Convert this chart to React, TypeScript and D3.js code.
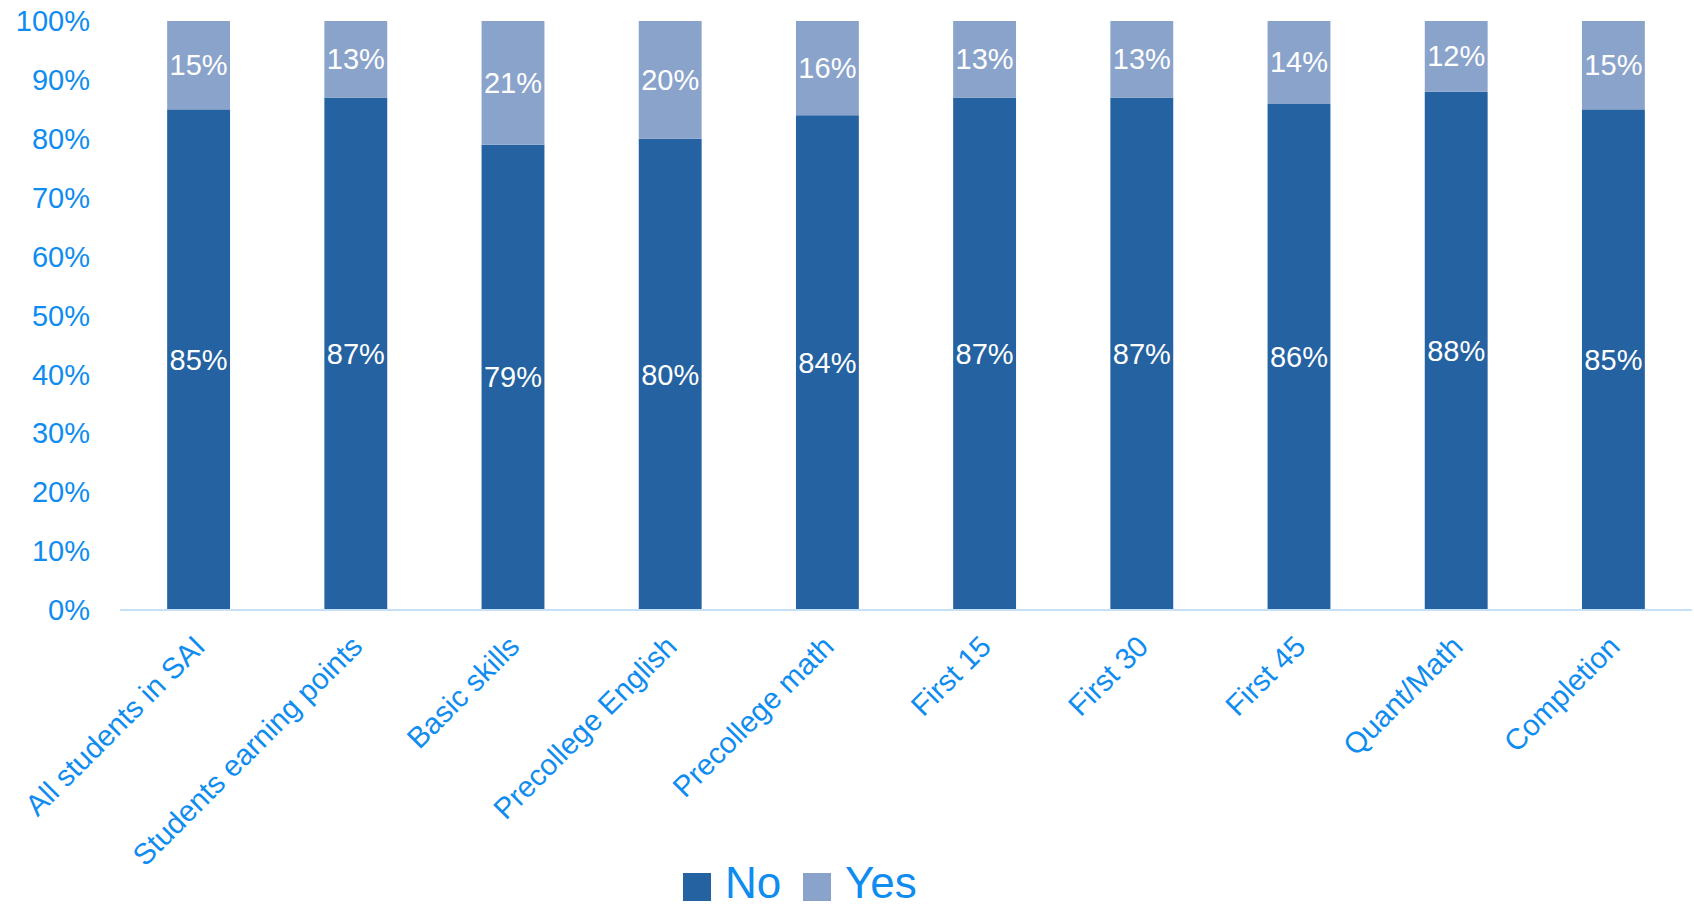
import React from "react";
import * as d3 from "d3";

const categories = [
  "All students in SAI",
  "Students earning points",
  "Basic skills",
  "Precollege English",
  "Precollege math",
  "First 15",
  "First 30",
  "First 45",
  "Quant/Math",
  "Completion",
];
const noValues = [85, 87, 79, 80, 84, 87, 87, 86, 88, 85];
const yesValues = [15, 13, 21, 20, 16, 13, 13, 14, 12, 15];
const yTicks = [0, 10, 20, 30, 40, 50, 60, 70, 80, 90, 100];
const seriesNames = ["No", "Yes"];

const W = 1694;
const H = 908;
const COLORS = ["#2562a1", "#8aa3cb"];
const TEXT = "#0f8cf0";
const FONT = "'Liberation Sans', Arial, sans-serif";

export default function App() {
  const x = d3.scaleBand<string>().domain(categories).range([120, 1692]).paddingInner(0.6).paddingOuter(0.3);
  const y = d3.scaleLinear().domain([0, 100]).range([610, 21]);
  const bw = x.bandwidth();

  return (
    <svg width={W} height={H} style={{ position: "absolute", left: 0, top: 0, background: "#fff" }} fontFamily={FONT}>
      {yTicks.map((t) => (
        <text key={t} x={90} y={y(t)} dy="0.35em" textAnchor="end" fontSize={29} fill={TEXT}>
          {t}%
        </text>
      ))}
      {categories.map((c, i) => {
        const x0 = x(c)!;
        const no = noValues[i];
        const yes = yesValues[i];
        return (
          <g key={c}>
            <rect x={x0} y={y(no)} width={bw} height={y(0) - y(no)} fill={COLORS[0]} />
            <rect x={x0} y={y(no + yes)} width={bw} height={y(no) - y(no + yes)} fill={COLORS[1]} />
            <text x={x0 + bw / 2} y={(y(0) + y(no)) / 2} dy="0.35em" textAnchor="middle" fontSize={29} fill="#fff">
              {no}%
            </text>
            <text x={x0 + bw / 2} y={(y(no) + y(no + yes)) / 2} dy="0.35em" textAnchor="middle" fontSize={29} fill="#fff">
              {yes}%
            </text>
            <text
              transform={`translate(${x0 + bw / 2 + 1},${641}) rotate(-45)`}
              textAnchor="end"
              dy="0.35em"
              fontSize={29.5}
              fill={TEXT}
            >
              {c}
            </text>
          </g>
        );
      })}
      <line x1={120} x2={1692} y1={y(0)} y2={y(0)} stroke="#c6e0f8" strokeWidth={2} />
      {seriesNames.map((s, i) => {
        const lx = i === 0 ? 683 : 803;
        return (
          <g key={s}>
            <rect x={lx} y={873} width={28} height={28} fill={COLORS[i]} />
            <text x={lx + 42} y={898} fontSize={44} fill={TEXT}>
              {s}
            </text>
          </g>
        );
      })}
    </svg>
  );
}
